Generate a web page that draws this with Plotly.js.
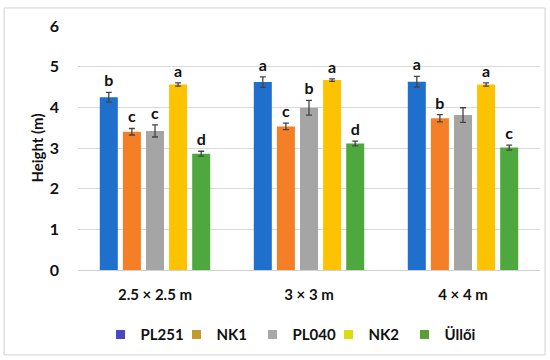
<!DOCTYPE html>
<html><head><meta charset="utf-8">
<script src="https://cdn.plot.ly/plotly-3.0.1.min.js"></script>
<style>html,body{margin:0;padding:0;background:#fff}#chart{width:550px;height:360px}</style>
</head><body><div id="chart"></div>
<script>
const categories = ["2.5 × 2.5 m", "3 × 3 m", "4 × 4 m"];
const seriesNames = ["PL251", "NK1", "PL040", "NK2", "Üllői"];
const pl251 = [4.25, 4.62, 4.63];
const nk1 = [3.40, 3.53, 3.73];
const pl040 = [3.42, 3.99, 3.81];
const nk2 = [4.56, 4.67, 4.56];
const ulloi = [2.86, 3.11, 3.01];
const errPl251 = [0.12, 0.13, 0.13];
const errNk1 = [0.08, 0.08, 0.09];
const errPl040 = [0.15, 0.18, 0.18];
const errNk2 = [0.04, 0.03, 0.04];
const errUlloi = [0.06, 0.06, 0.06];
const letPl251 = ["b", "a", "a"];
const letNk1 = ["c", "c", "b"];
const letPl040 = ["c", "b", ""];
const letNk2 = ["a", "a", "a"];
const letUlloi = ["d", "d", "c"];
const yTicks = [0, 1, 2, 3, 4, 5, 6];

const values = [pl251, nk1, pl040, nk2, ulloi];
const errs = [errPl251, errNk1, errPl040, errNk2, errUlloi];
const letters = [letPl251, letNk1, letPl040, letNk2, letUlloi];
const barColors = ["#1f6fcc", "#f57f26", "#a5a5a5", "#fdc200", "#4fa83e"];
const legendColors = ["#4848c4", "#c49a2a", "#a8a8a8", "#dcdc10", "#5c9c34"];
const font = "Lato, 'Open Sans', sans-serif";

const traces = [];
values.forEach((v, i) => {
  traces.push({
    type: "bar", x: categories, y: v, name: seriesNames[i], offsetgroup: String(i),
    marker: {color: barColors[i]}, showlegend: false,
    error_y: {type: "data", array: errs[i], visible: true, color: "#444", thickness: 1.3, width: 3}
  });
});
values.forEach((v, i) => {
  traces.push({
    type: "bar", x: categories, y: v.map((d, j) => d + errs[i][j]), offsetgroup: String(i),
    marker: {color: "rgba(0,0,0,0)"}, showlegend: false, hoverinfo: "skip",
    text: letters[i], textposition: "outside", cliponaxis: false,
    textfont: {family: font, size: 16, color: "#111", weight: 700}
  });
});
seriesNames.forEach((n, i) => {
  traces.push({
    type: "scatter", mode: "markers", x: [null], y: [null], name: n,
    marker: {symbol: "square", size: 9, color: legendColors[i]}
  });
});

Plotly.newPlot("chart", traces, {
  width: 550, height: 360,
  margin: {l: 78, r: 10, t: 26, b: 90, autoexpand: false},
  paper_bgcolor: "#fff", plot_bgcolor: "#fff",
  barmode: "group", bargap: 0.25, bargroupgap: 0.22,
  font: {family: font, color: "#111"},
  xaxis: {
    showgrid: false, showline: true, linecolor: "#d0d0d0", ticks: "", ticklabelstandoff: 11,
    tickfont: {size: 15, weight: 700, color: "#111"}
  },
  yaxis: {
    range: [0, 6], tickvals: yTicks, showgrid: true, gridcolor: "#d9d9d9",
    zeroline: false, showline: false, ticks: "", ticklabelstandoff: 18,
    tickfont: {size: 16, weight: 700, color: "#111"},
    title: {text: "Height (m)", font: {size: 15, weight: 700, color: "#111"}, standoff: 2}
  },
  legend: {
    orientation: "h", x: 0.46, xanchor: "center", yref: "container", y: 0.07, yanchor: "middle",
    font: {size: 15, weight: 700, color: "#111"}, itemwidth: 30, entrywidth: 31, entrywidthmode: "pixels",
    tracegroupgap: 0
  },
  shapes: [{type: "rect", xref: "paper", yref: "paper", x0: -0.16, x1: 1.011, y0: -0.348, y1: 1.074,
    line: {color: "#d0d0d0", width: 1}}],
  showlegend: true
}, {displayModeBar: false, staticPlot: true});
</script></body></html>
